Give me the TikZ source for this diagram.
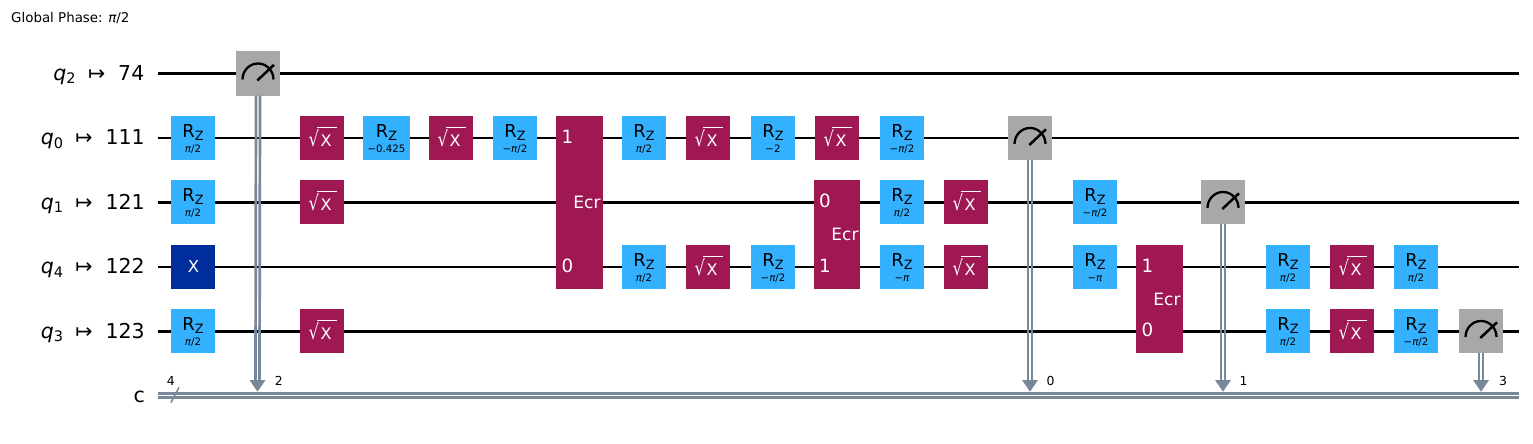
\documentclass[tikz,border=0pt]{standalone}
\usepackage{fontspec}
\usepackage{graphicx}
\setmainfont{DejaVu Sans}
\usetikzlibrary{calc}
\definecolor{rzc}{HTML}{33B1FF}
\definecolor{sxc}{HTML}{9F1853}
\definecolor{xc}{HTML}{002D9C}
\definecolor{mc}{HTML}{A8A8A8}
\definecolor{cc}{HTML}{778899}
\newcommand\fs[1]{\fontsize{#1}{#1}\selectfont}
\newcommand\up[2]{\smash{\makebox[0pt]{\raisebox{#1}{#2}}}}
\newcommand\rzt[1]{\up{0.7pt}{\fs{17.8}R\raisebox{-2.7pt}{\fs{12.8}Z}}\up{-14.5pt}{\fs{10.2}#1}}
\newcommand\sxt{\smash{\makebox[0pt][l]{\kern-13.4pt\raisebox{-8.6pt}{\scalebox{0.8}[1]{\fs{20.5}√}}}%
  \makebox[0pt][l]{\kern-4.7pt\raisebox{10.6pt}{\rule{19.4pt}{0.8pt}}}%
  \makebox[0pt][l]{\kern-1.3pt\raisebox{-8pt}{\fs{16}X}}}}
\newcommand\pihalf{{\itshape π}/2}
\newcommand\mpi{−{\itshape π}}
\newcommand\mpihalf{−{\itshape π}/2}
\newcommand\wirelab[2]{{\fs{20.5}{\itshape q}\raisebox{-3.5pt}{\fs{14.5}#1}\hspace{12.5pt}↦\hspace{13pt}#2}}
\tikzset{
  x=1pt,y=-1pt,
  gate/.style={inner sep=0pt,minimum width=44pt,minimum height=44pt,draw=none},
  rzg/.style={gate,fill=rzc,text=black},
  sxg/.style={gate,fill=sxc,text=white},
  xg/.style={gate,fill=xc,text=white},
  mg/.style={gate,fill=mc},
  ecrg/.style={inner sep=0pt,minimum width=46.5pt,fill=sxc,text=white},
  ecrnum/.style={inner sep=0pt,text=white,font=\fs{18.3}},
  ecrname/.style={anchor=base,inner sep=0pt,text=white,font=\fs{17}},
  qwire/.style={draw=black,line width=2.6pt},
  cwire/.style={draw=cc,line width=2.7pt},
  wlab/.style={anchor=base east,inner sep=0pt,text=black},
  small/.style={inner sep=0pt,font=\fs{12.4},text=black},
}
\newcommand\dbl[2]{% from node to coordinate
  \draw[cwire] ([xshift=-2pt]#1.south) -- ([xshift=-2pt,yshift=10pt]#2);
  \draw[cwire] ([xshift=2pt]#1.south) -- ([xshift=2pt,yshift=10pt]#2);
  \fill[cc] ($(#2)+(-8,-11.7)$) -- ($(#2)+(8,-11.7)$) -- (#2) -- cycle;
}
\newcommand\meter[1]{%
  \draw[black,line width=2.3pt] ($(#1)+(-15.5,6)$) arc[start angle=180,end angle=0,x radius=15.5pt,y radius=16pt];
  \draw[black,line width=2.5pt] ($(#1)+(-0.7,7)$) -- ($(#1)+(16,-8.7)$);
}
\begin{document}
\begin{tikzpicture}
\useasboundingbox (0,0) rectangle (1533,444);
\fill[white] (0,0) rectangle (1533,444);
\node[anchor=base west,inner sep=0pt,font=\fs{13.4}] (gp) at (11,23) {Global Phase: \pihalf};

% wire ends
\foreach \n/\y in {a/73.3,b/138,c/202.3,d/267,e/331.3}{
  \coordinate (\n L) at (158,\y);
  \coordinate (\n R) at (1519,\y);
  \draw[qwire] (\n L) -- (\n R);
}
\coordinate (cL) at (158,395.5);
\coordinate (cR) at (1519,395.5);
\draw[cwire] ([yshift=1.95pt]cL) -- ([yshift=1.95pt]cR);
\draw[cwire] ([yshift=-1.95pt]cL) -- ([yshift=-1.95pt]cR);
\coordinate (s1) at (171,402.5);
\coordinate (s2) at (179,387.3);
\draw[cc,line width=1.5pt] (s1) -- (s2);

% labels
\node[wlab] (l2) at (144.5,80) {\wirelab{2}{74}};
\node[wlab] (l0) at (145,144.5) {\wirelab{0}{111}};
\node[wlab] (l1) at (145,209) {\wirelab{1}{121}};
\node[wlab] (l4) at (145,273.5) {\wirelab{4}{122}};
\node[wlab] (l3) at (145,338) {\wirelab{3}{123}};
\node[wlab,font=\fs{20.5}] (lc) at (145,402) {c};
\node[small] (n4) at (170.7,381) {4};

% targets on classical wire
\coordinate (t2) at (257.5,391.7);
\coordinate (t0) at (1030,391.7);
\coordinate (t1) at (1223,391.7);
\coordinate (t3) at (1481,391.7);
\node[small] (n2) at (278.7,381) {2};
\node[small] (n0) at (1050.5,381) {0};
\node[small] (n1) at (1243.5,381) {1};
\node[small] (n3) at (1503,381) {3};

% measures
\node[mg] (m2) at (258,73.5) {};
\node[mg] (m0) at (1030,138) {};
\node[mg] (m1) at (1223,202) {};
\node[mg] (m3) at (1481,331) {};
\dbl{m2}{t2}
\dbl{m0}{t0}
\dbl{m1}{t1}
\dbl{m3}{t3}
\meter{m2}\meter{m0}\meter{m1}\meter{m3}

% column 1
\node[rzg] (g1) at (193,138) {\rzt{\pihalf}};
\node[rzg] (g2) at (193,202) {\rzt{\pihalf}};
\node[xg] (g3) at (193,267) {\kern1pt\up{-5.5pt}{\fs{16.5}X}};
\node[rzg] (g4) at (193,331) {\rzt{\pihalf}};
\node[sxg] (g5) at (322,138) {\sxt};
\node[sxg] (g6) at (322,202) {\sxt};
\node[sxg] (g7) at (322,331) {\sxt};
\node[rzg,minimum width=47pt] (g8) at (386.5,138) {\rzt{−0.425}};
\node[sxg] (g9) at (451,138) {\sxt};
\node[rzg] (g10) at (515,138) {\rzt{\mpihalf}};

% first Ecr
\node[ecrg,minimum height=173pt] (e1) at (579.5,202.5) {};
\node[ecrnum] (e1a) at (567.5,137) {1};
\node[ecrnum] (e1b) at (567.5,266) {0};
\node[ecrname] (e1c) at (587,208) {Ecr};

\node[rzg] (g11) at (644,138) {\rzt{\pihalf}};
\node[sxg] (g12) at (708,138) {\sxt};
\node[rzg] (g13) at (773,138) {\rzt{−2}};
\node[sxg] (g14) at (837,138) {\sxt};
\node[rzg] (g15) at (902,138) {\rzt{\mpihalf}};
\node[rzg] (g16) at (644,267) {\rzt{\pihalf}};
\node[sxg] (g17) at (708,267) {\sxt};
\node[rzg] (g18) at (773,267) {\rzt{\mpihalf}};

% second Ecr
\node[ecrg,minimum height=108.5pt] (e2) at (837,234.5) {};
\node[ecrnum] (e2a) at (825,201) {0};
\node[ecrnum] (e2b) at (825,266) {1};
\node[ecrname] (e2c) at (845,240.5) {Ecr};

\node[rzg] (g19) at (902,202) {\rzt{\pihalf}};
\node[sxg] (g20) at (966,202) {\sxt};
\node[rzg] (g21) at (902,267) {\rzt{\mpi}};
\node[sxg] (g22) at (966,267) {\sxt};
\node[rzg] (g23) at (1095,202) {\rzt{\mpihalf}};
\node[rzg] (g24) at (1095,267) {\rzt{\mpi}};

% third Ecr
\node[ecrg,minimum height=108.5pt] (e3) at (1159.5,299) {};
\node[ecrnum] (e3a) at (1147.5,266) {1};
\node[ecrnum] (e3b) at (1147.5,330) {0};
\node[ecrname] (e3c) at (1167,305) {Ecr};

\node[rzg] (g25) at (1288,267) {\rzt{\pihalf}};
\node[sxg] (g26) at (1352,267) {\sxt};
\node[rzg] (g27) at (1416,267) {\rzt{\pihalf}};
\node[rzg] (g28) at (1288,331) {\rzt{\pihalf}};
\node[sxg] (g29) at (1352,331) {\sxt};
\node[rzg] (g30) at (1416,331) {\rzt{\mpihalf}};
\end{tikzpicture}
\end{document}
